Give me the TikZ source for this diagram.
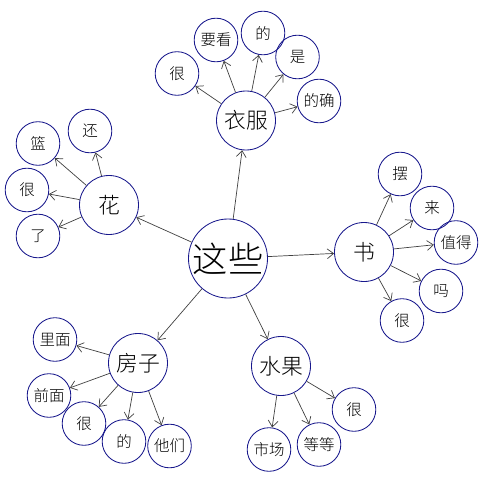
\documentclass[tikz,border=0pt]{standalone}
\usepackage{fontspec}
\newfontfamily\cjk{Noto Sans CJK SC}[UprightFont={* Light}]
\usetikzlibrary{arrows.meta}
\definecolor{ringblue}{RGB}{24,24,140}
\definecolor{linkgray}{RGB}{64,64,64}
\tikzset{
  ring/.style={circle,draw=ringblue,line width=0.6pt,inner sep=0pt,font=\cjk},
  rootword/.style={ring,minimum size=1.975cm,font=\cjk\fontsize{25}{25}\selectfont},
  topicword/.style={ring,minimum size=1.475cm,font=\cjk\fontsize{15.5}{16}\selectfont},
  leafword/.style={ring,minimum size=1.09cm,font=\cjk\fontsize{11}{12}\selectfont},
  link/.style={draw=linkgray,line width=0.5pt,-{Straight Barb[length=4.5pt,width=7pt]}}
}
\begin{document}
\begin{tikzpicture}[x=0.025cm,y=-0.025cm]
\useasboundingbox (0,0) rectangle (480,480);
\node[rootword] (zhexie) at (228,258.5) {这些};
\node[topicword] (yifu) at (246,120.5) {衣服};
\node[topicword] (hua) at (109,205) {花};
\node[topicword] (shu) at (364,252) {书};
\node[topicword] (fangzi) at (138,363) {房子};
\node[topicword] (shuiguo) at (281,366) {水果};
\draw[link] (zhexie) -- (yifu);
\draw[link] (zhexie) -- (hua);
\draw[link] (zhexie) -- (shu);
\draw[link] (zhexie) -- (fangzi);
\draw[link] (zhexie) -- (shuiguo);
\begin{scope}
\node[leafword] (yifuhen) at (177,73.5) {很};
\node[leafword] (yaokan) at (216,40) {要看};
\node[leafword] (yifude) at (263,33) {的};
\node[leafword] (shi) at (297.5,57) {是};
\node[leafword] (dique) at (319,101) {的确};
\draw[link] (yifu) -- (yifuhen);
\draw[link] (yifu) -- (yaokan);
\draw[link] (yifu) -- (yifude);
\draw[link] (yifu) -- (shi);
\draw[link] (yifu) -- (dique);
\end{scope}
\begin{scope}
\node[leafword] (hai) at (90,131) {还};
\node[leafword] (lan) at (38,143.5) {篮};
\node[leafword] (huahen) at (27,190) {很};
\node[leafword] (le) at (38,236) {了};
\draw[link] (hua) -- (hai);
\draw[link] (hua) -- (lan);
\draw[link] (hua) -- (huahen);
\draw[link] (hua) -- (le);
\end{scope}
\begin{scope}
\node[leafword] (bai) at (400,174) {摆};
\node[leafword] (lai) at (432,208) {来};
\node[leafword] (zhide) at (456,242.5) {值得};
\node[leafword] (ma) at (441,291) {吗};
\node[leafword] (shuhen) at (402,320.5) {很};
\draw[link] (shu) -- (bai);
\draw[link] (shu) -- (lai);
\draw[link] (shu) -- (zhide);
\draw[link] (shu) -- (ma);
\draw[link] (shu) -- (shuhen);
\end{scope}
\begin{scope}
\node[leafword] (limian) at (55,339.5) {里面};
\node[leafword] (qianmian) at (49,395.5) {前面};
\node[leafword] (fangzihen) at (84,423.5) {很};
\node[leafword] (fangzide) at (124,441.5) {的};
\node[leafword] (tamen) at (169.5,446) {他们};
\draw[link] (fangzi) -- (limian);
\draw[link] (fangzi) -- (qianmian);
\draw[link] (fangzi) -- (fangzihen);
\draw[link] (fangzi) -- (fangzide);
\draw[link] (fangzi) -- (tamen);
\end{scope}
\begin{scope}
\node[leafword] (shuiguohen) at (354,409.5) {很};
\node[leafword] (dengdeng) at (319,444.5) {等等};
\node[leafword] (shichang) at (269,449.5) {市场};
\draw[link] (shuiguo) -- (shuiguohen);
\draw[link] (shuiguo) -- (dengdeng);
\draw[link] (shuiguo) -- (shichang);
\end{scope}
\end{tikzpicture}
\end{document}
